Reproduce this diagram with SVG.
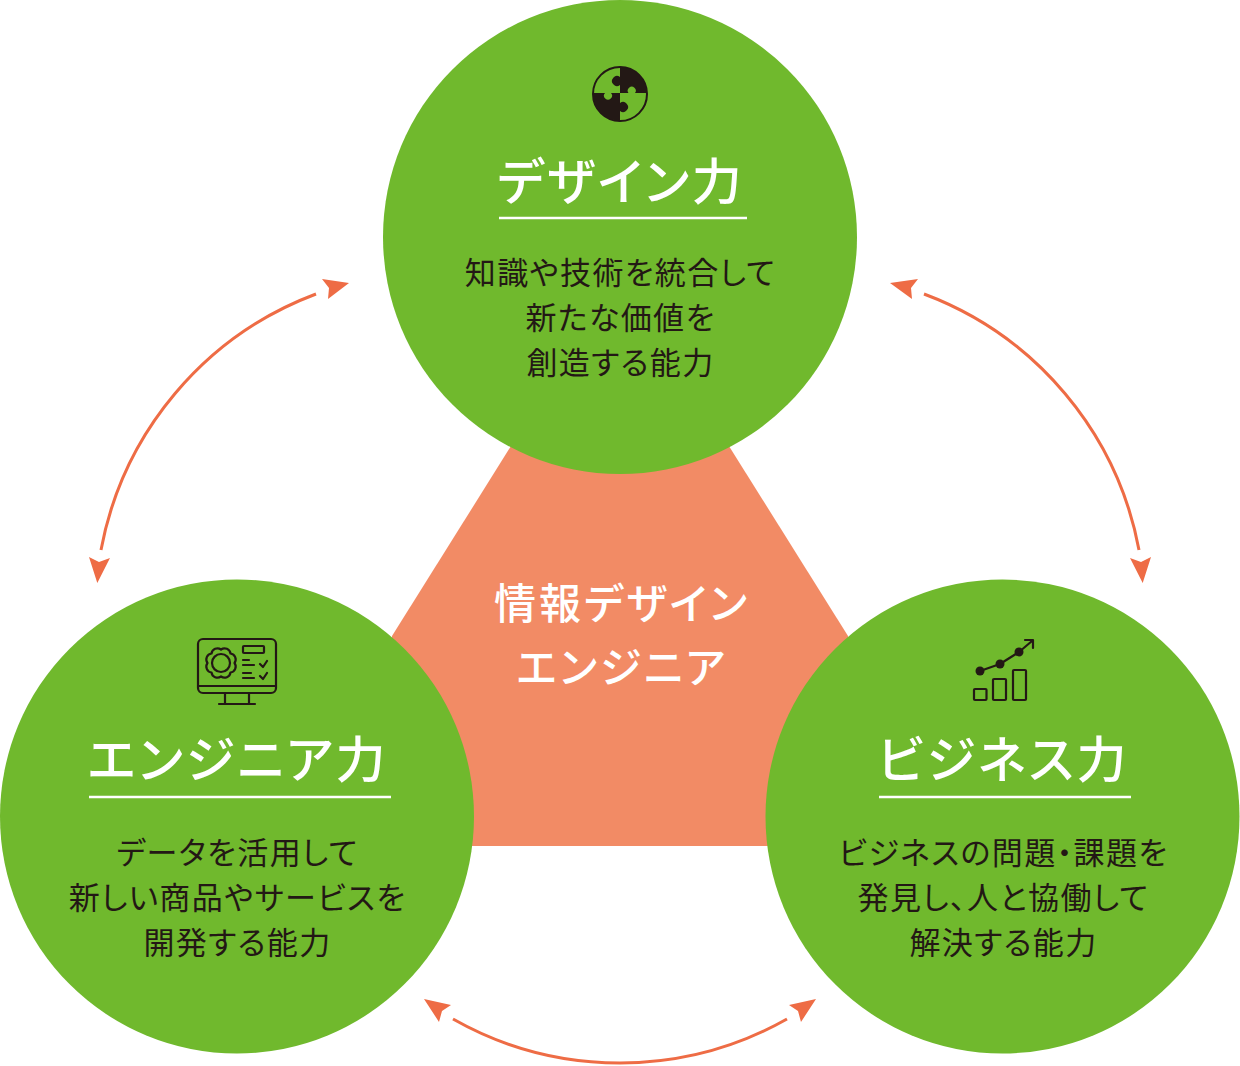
<svg xmlns="http://www.w3.org/2000/svg" width="1240" height="1066" viewBox="0 0 1240 1066">
<style>
.c{fill:#70b92d}
.t{font-family:"Noto Sans CJK JP","Noto Sans",sans-serif;text-anchor:middle;fill:#fff;font-weight:500;font-feature-settings:"palt"}
.h{font-size:50px;letter-spacing:2.800px}
.m{font-size:42px;letter-spacing:3px}
.b{font-family:"Noto Sans CJK JP","Noto Sans",sans-serif;text-anchor:middle;fill:#231815;font-size:31px;letter-spacing:1.400px;font-feature-settings:"palt"}
.u{stroke:#fff;stroke-width:2.5;fill:none}
.a{fill:none;stroke:#ee6c45;stroke-width:3}
.ah{fill:#ee6c45}
.i{fill:none;stroke:#231815;stroke-width:2.2;stroke-linejoin:round;stroke-linecap:round}
.f{fill:#231815}
</style>
<polygon id="triangle" points="620,272 848,636 848,846 392,846 392,636" fill="#f28b65"/>
<g id="connectors">
<path class="a" d="M316,294 A340,340 0 0 0 101,550"/>
<polygon class="ah" points="349,283 322,279 329,288 328,299"/>
<polygon class="ah" points="97.300,583 89,557 99,562 110,558"/>
<path class="a" d="M924,294 A340,340 0 0 1 1139,550"/>
<polygon class="ah" points="890,283 918,279 911,288 912,299"/>
<polygon class="ah" points="1142.700,583 1151,557 1141,562 1130,558"/>
<path class="a" d="M453,1019 A339,339 0 0 0 787,1019"/>
<polygon class="ah" points="424,999 451,1005 442,1011 439,1022"/>
<polygon class="ah" points="816,999 789,1005 798,1011 801,1022"/>
</g>
<g id="node-center"><text class="t m" x="622" y="619">情報デザイン</text><text class="t m" x="622" y="683">エンジニア</text></g>
<g id="node-design">
<circle class="c" cx="620" cy="237" r="237"/>
<circle cx="620" cy="94" r="27" fill="none" stroke="#231815" stroke-width="2"/>
<path class="f" d="M620,67 A27,27 0 0 1 647,93 L635,93 A4,4 0 1 0 628.500,93 L620,93 L620,85 A5,5 0 1 1 620,77 Z"/>
<path class="f" d="M593,93 L605,93 A4,4 0 1 0 611,93 L620,93 L620,103 A5,5 0 1 1 620,111 L620,121 A27,27 0 0 1 593,93 Z"/>
<text class="t h" x="621" y="200">デザイン力</text>
<line class="u" x1="499" y1="218" x2="747" y2="218"/>
<text class="b" x="620.500" y="284">知識や技術を統合して</text>
<text class="b" x="620.500" y="329">新たな価値を</text>
<text class="b" x="620.500" y="374">創造する能力</text>
</g>
<g id="node-engineer">
<circle class="c" cx="237" cy="816.500" r="237"/>
<rect class="i" x="198" y="639" width="78" height="54" rx="5"/>
<line class="i" x1="198" y1="686" x2="276" y2="686"/>
<path class="i" d="M225,693 V703 M249,693 V703 M219,704 H255"/>
<circle class="i" cx="221" cy="663" r="9"/>
<path class="i" stroke-width="1.800" d="M234.500,663 A6,6 0 0 1 230.500,672.500 A6,6 0 0 1 221,676.500 A6,6 0 0 1 211.500,672.500 A6,6 0 0 1 207.500,663 A6,6 0 0 1 211.500,653.500 A6,6 0 0 1 221,649.500 A6,6 0 0 1 230.500,653.500 A6,6 0 0 1 234.500,663 Z"/>
<rect class="i" x="243" y="646" width="21" height="7" rx="1"/>
<path class="i" d="M243,660 H249 M243,665 H254 M243,673 H251 M243,678 H254 M260,664 L263,667 L267,661 M260,676 L263,679 L267,673"/>
<text class="t h" x="238" y="778">エンジニア力</text>
<line class="u" x1="89" y1="797" x2="391" y2="797"/>
<text class="b" x="237.500" y="864">データを活用して</text>
<text class="b" x="237.500" y="909">新しい商品やサービスを</text>
<text class="b" x="237.500" y="954">開発する能力</text>
</g>
<g id="node-business">
<circle class="c" cx="1002.500" cy="816.500" r="237"/>
<circle class="f" cx="980" cy="671" r="4.500"/><circle class="f" cx="1000" cy="664" r="4.500"/><circle class="f" cx="1019" cy="652" r="4.500"/>
<path class="i" d="M980,671 L1000,664 L1019,652 L1032,641 M1025,640 H1033 V648"/>
<rect class="i" x="974" y="689" width="12.500" height="11" rx="1"/>
<rect class="i" x="993" y="679" width="13" height="21" rx="1"/>
<rect class="i" x="1013" y="670" width="13" height="30" rx="1"/>
<text class="t h" x="1003.500" y="778">ビジネス力</text>
<line class="u" x1="879" y1="797" x2="1131" y2="797"/>
<text class="b" x="1003.500" y="864">ビジネスの問題・課題を</text>
<text class="b" x="1003.500" y="909">発見し、人と協働して</text>
<text class="b" x="1003.500" y="954">解決する能力</text>
</g>
</svg>
